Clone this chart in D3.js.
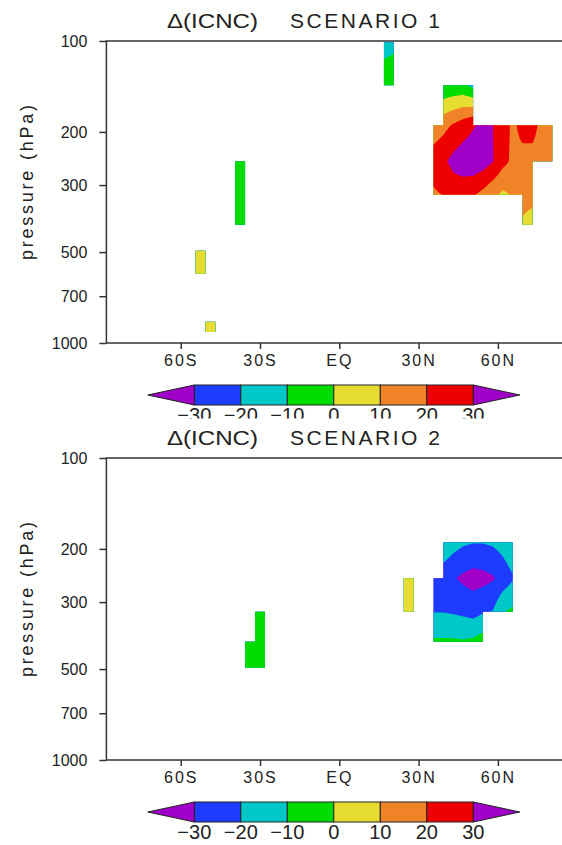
<!DOCTYPE html>
<html><head><meta charset="utf-8">
<script src="https://cdn.jsdelivr.net/npm/d3@7"></script>
<style>
body{margin:0;background:#fff;}
svg{display:block;}
text{font-family:"Liberation Sans",Arial,Helvetica,sans-serif;fill:#222;}
</style></head><body>
<svg id="chart" width="562" height="845"></svg>
<script>
// ---------------- data ----------------
const latTicks = [-60, -30, 0, 30, 60];
const latTickLabels = ["60S", "30S", "EQ", "30N", "60N"];
const presTicks = [100, 200, 300, 500, 700, 1000];
const colorLevels = [-30, -20, -10, 0, 10, 20, 30];
const colorLabels = ["\u221230", "\u221220", "\u221210", "0", "10", "20", "30"];
const shadeColors = ["#a000c8", "#1e3cff", "#00c8c8", "#00dc00", "#e6dc32", "#f08228", "#ee0000", "#a000c8"];
const titleLeft = "\u0394(ICNC)";
const titles = ["SCENARIO 1", "SCENARIO 2"];

// Scenario 1 : grid patches (rows = pressure levels [hPa], cols = latitudes); null = missing
const s1aLats = [16.875, 20.625];
const s1aLevs = [101, 140];
const s1aVals = [[-14.5, -12.5], [-3, -3]];

const s1bLats = [-54.375, -50.625];
const s1bLevs = [495, 590];
const s1bVals = [[5, 5], [5, 5]];

const s1cLats = [-50.625, -46.875];
const s1cLevs = [850, 920];
const s1cVals = [[4, 4], [4, 4]];

const s1dLats = [-39.375, -35.625];
const s1dLevs = [250, 323, 406];
const s1dVals = [[-5, -5], [-5, -5], [-5, -5]];

const s1eLats = [35.625, 39.375, 43.125, 46.875, 50.625, 54.375, 58.125, 61.875, 65.625, 69.375, 73.125, 76.875, 80.625];
const s1eLevs = [140, 190, 250, 323, 406];
const s1eVals = [
  [null, -9, -8, -8, -13, null, null, null, null, null, null, null, null],
  [14, 17, 21, 25, 29, 33, 30, 25, 18, 23, 24, 16, 14],
  [25, 28, 33, 36, 37, 35, 30.5, 23, 18, 17, 16, 15, 14],
  [18.5, 20.3, 24, 23, 21, 17, 12, 8, 11, 13, 14, null, null],
  [null, null, null, null, null, null, null, null, null, 9, 5, null, null]
];

// Scenario 2
const s2aLats = [-35.625, -31.875, -28.125];
const s2aLevs = [323, 406, 495];
const s2aVals = [[null, -4, -4], [-4, -4, -4], [-4, -4, -4]];

const s2bLats = [24.375, 28.125];
const s2bLevs = [250, 323];
const s2bVals = [[5, 5], [5, 5]];

const s2cLats = [35.625, 39.375, 43.125, 46.875, 50.625, 54.375, 58.125, 61.875, 65.625];
const s2cLevs = [190, 250, 323, 406];
const s2cVals = [
  [null, -12, -16, -18.5, -19.5, -19.5, -18.5, -16, -12],
  [-22, -26, -29, -32, -34, -33, -31, -26, -21],
  [-20.3, -20.3, -21, -22, -23.5, -21, -19.5, -10.5, -8],
  [-8.5, -8.5, -8.5, -9, -8, -5, null, null, null]
];

// ---------------- drawing ----------------
const W = 562, H = 845;
const svg = d3.select("#chart");
const defs = svg.append("defs");
const xScale = d3.scaleLinear().domain([-88.125, 88.125]).range([106.4, 572.2]);
const color = d3.scaleThreshold().domain(colorLevels).range(shadeColors);
const cbScale = d3.scaleLinear().domain([-30, 30]).range([194.3, 473.3]);
const PLOT_H = 302;

const panels = [
  {top: 41, title: titles[0], patches: [[s1aLats, s1aLevs, s1aVals], [s1bLats, s1bLevs, s1bVals], [s1cLats, s1cLevs, s1cVals], [s1dLats, s1dLevs, s1dVals], [s1eLats, s1eLevs, s1eVals]]},
  {top: 458, title: titles[1], patches: [[s2aLats, s2aLevs, s2aVals], [s2bLats, s2bLevs, s2bVals], [s2cLats, s2cLevs, s2cVals]]}
];

function fillMissing(vals) {
  const nj = vals.length, ni = vals[0].length;
  return vals.map((row, j) => row.map((v, i) => {
    if (v != null) return v;
    let best = 0, bd = Infinity;
    for (let jj = 0; jj < nj; jj++) for (let ii = 0; ii < ni; ii++) {
      const w = vals[jj][ii];
      if (w == null) continue;
      const d = Math.abs(jj - j) + Math.abs(ii - i);
      if (d < bd) { bd = d; best = w; }
    }
    return best;
  }));
}

function drawPatch(g, lats, levs, vals, y, clipId) {
  const ni = lats.length, nj = levs.length;
  const f = fillMissing(vals);
  const N = 12;
  const fw = (ni - 1) * N + 1, fh = (nj - 1) * N + 1;
  const grid = new Array(fw * fh);
  for (let b = 0; b < fh; b++) {
    for (let a = 0; a < fw; a++) {
      const u = a / N, v = b / N;
      const i0 = Math.min(Math.floor(u), ni - 2), j0 = Math.min(Math.floor(v), nj - 2);
      const tu = u - i0, tv = v - j0;
      grid[b * fw + a] = (1 - tu) * (1 - tv) * f[j0][i0] + tu * (1 - tv) * f[j0][i0 + 1]
        + (1 - tu) * tv * f[j0 + 1][i0] + tu * tv * f[j0 + 1][i0 + 1];
    }
  }
  const xs = lats.map(d => xScale(d)), ys = levs.map(d => y(d));
  const lerpIdx = (arr, u) => {
    const n = arr.length;
    const i0 = Math.max(0, Math.min(Math.floor(u), n - 2));
    const t = u - i0;
    return arr[i0] + t * (arr[i0 + 1] - arr[i0]);
  };
  const proj = d3.geoTransform({
    point(px, py) { this.stream.point(lerpIdx(xs, (px - 0.5) / N), lerpIdx(ys, (py - 0.5) / N)); }
  });
  const path = d3.geoPath(proj);

  const clip = defs.append("clipPath").attr("id", clipId);
  for (let j = 0; j < nj - 1; j++) {
    for (let i = 0; i < ni - 1; i++) {
      if (vals[j][i] == null || vals[j][i + 1] == null || vals[j + 1][i] == null || vals[j + 1][i + 1] == null) continue;
      clip.append("rect")
        .attr("x", xs[i]).attr("y", ys[j])
        .attr("width", xs[i + 1] - xs[i]).attr("height", ys[j + 1] - ys[j]);
    }
  }
  const pg = g.append("g").attr("clip-path", `url(#${clipId})`);
  pg.append("rect")
    .attr("x", xs[0]).attr("y", ys[0])
    .attr("width", xs[ni - 1] - xs[0]).attr("height", ys[nj - 1] - ys[0])
    .attr("fill", shadeColors[0]);
  const bands = d3.contours().size([fw, fh]).thresholds(colorLevels)(grid);
  pg.selectAll("path.band").data(bands).join("path")
    .attr("class", "band")
    .attr("d", path)
    .attr("fill", d => color(d.value))
    .attr("fill-rule", "evenodd");
}

function drawPanel(p, k) {
  const g = svg.append("g");
  if (k > 0) {
    g.append("rect").attr("x", 0).attr("y", p.top - 39.5).attr("width", W).attr("height", H - (p.top - 39.5)).attr("fill", "#fff");
  }
  const y = d3.scaleLog().domain([100, 1000]).range([p.top, p.top + PLOT_H]);

  p.patches.forEach((pt, i) => drawPatch(g, pt[0], pt[1], pt[2], y, `clip${k}_${i}`));

  const x0 = xScale.range()[0], x1 = xScale.range()[1];
  g.append("rect")
    .attr("x", x0).attr("y", p.top).attr("width", x1 - x0).attr("height", PLOT_H)
    .attr("fill", "none").attr("stroke", "#333").attr("stroke-width", 1.5);

  // y axis
  const ya = g.append("g").attr("transform", `translate(${x0},0)`)
    .call(d3.axisLeft(y).tickValues(presTicks).tickFormat(d3.format("d")).tickSize(7).tickPadding(12));
  ya.select(".domain").remove();
  ya.attr("font-size", 16).attr("font-family", "Liberation Sans, Arial, sans-serif").attr("color", "#333");
  ya.selectAll("line").attr("stroke-width", 1.5);
  ya.selectAll("text").attr("fill", "#222");

  // x axis
  const xa = g.append("g").attr("transform", `translate(0,${p.top + PLOT_H})`)
    .call(d3.axisBottom(xScale).tickValues(latTicks).tickFormat((d, i) => latTickLabels[i]).tickSize(6).tickPadding(6));
  xa.select(".domain").remove();
  xa.attr("font-size", 16).attr("font-family", "Liberation Sans, Arial, sans-serif").attr("color", "#333");
  xa.selectAll("line").attr("stroke-width", 1.5);
  xa.selectAll("text").attr("fill", "#222").style("letter-spacing", "2px");

  // y label
  g.append("text")
    .attr("transform", `translate(33,${p.top + 141.5}) rotate(-90)`)
    .attr("text-anchor", "middle").attr("font-size", 18)
    .attr("textLength", 155).attr("lengthAdjust", "spacing")
    .text("pressure (hPa)");

  // title
  g.append("text").attr("x", 167).attr("y", p.top - 12.7).attr("font-size", 21)
    .attr("textLength", 91).attr("lengthAdjust", "spacingAndGlyphs").text(titleLeft);
  g.append("text").attr("x", 290).attr("y", p.top - 12.7).attr("font-size", 21)
    .attr("textLength", 150).attr("lengthAdjust", "spacing").text(p.title);

  // colorbar
  const by = p.top + 344, bh = 20;
  const cb = g.append("g");
  const boxes = d3.range(colorLevels.length - 1).map(i => [colorLevels[i], colorLevels[i + 1], shadeColors[i + 1]]);
  cb.selectAll("rect.box").data(boxes).join("rect").attr("class", "box")
    .attr("x", d => cbScale(d[0])).attr("y", by)
    .attr("width", d => cbScale(d[1]) - cbScale(d[0])).attr("height", bh)
    .attr("fill", d => d[2]).attr("stroke", "#222").attr("stroke-width", 1);
  const step = colorLevels[1] - colorLevels[0];
  const lo = colorLevels[0], hi = colorLevels[colorLevels.length - 1];
  cb.append("path")
    .attr("d", `M${cbScale(lo)},${by}L${cbScale(lo - step)},${by + bh / 2}L${cbScale(lo)},${by + bh}Z`)
    .attr("fill", shadeColors[0]).attr("stroke", "#222").attr("stroke-width", 1);
  cb.append("path")
    .attr("d", `M${cbScale(hi)},${by}L${cbScale(hi + step)},${by + bh / 2}L${cbScale(hi)},${by + bh}Z`)
    .attr("fill", shadeColors[shadeColors.length - 1]).attr("stroke", "#222").attr("stroke-width", 1);
  cb.selectAll("text.cbl").data(colorLevels).join("text").attr("class", "cbl")
    .attr("x", d => cbScale(d)).attr("y", by + bh + 17)
    .attr("text-anchor", "middle").attr("font-size", 20)
    .text((d, i) => colorLabels[i]);
}

panels.forEach(drawPanel);
</script>
</body></html>
